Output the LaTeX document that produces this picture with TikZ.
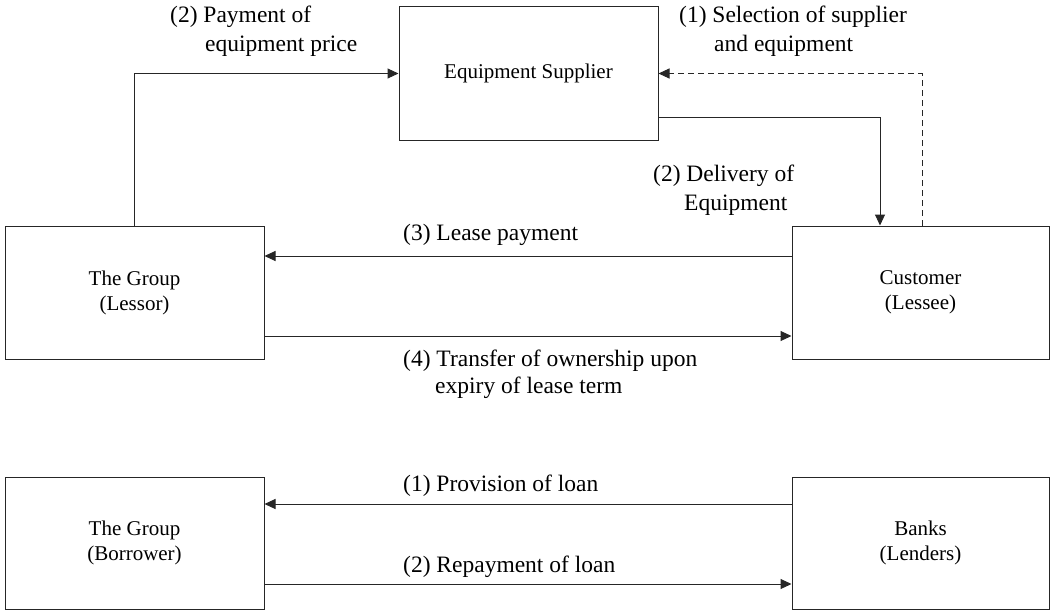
\documentclass[tikz,border=0pt]{standalone}
\usepackage{fontspec}
\setmainfont{Liberation Serif}
\usetikzlibrary{arrows.meta}
\begin{document}
\begin{tikzpicture}[x=1pt,y=-1pt,
  box/.style={draw=black!85,line width=1pt,rectangle,minimum width=259pt,minimum height=133pt,
    align=center,inner sep=0pt,text=black,font=\rmfamily\fontsize{21}{25}\selectfont},
  lbl/.style={anchor=base west,inner sep=0pt,text=black,font=\rmfamily\fontsize{23.5}{28}\selectfont},
  conn/.style={draw=black!85,line width=1pt,-{Triangle[length=11pt,width=10pt]}}
]
\useasboundingbox (0,0) rectangle (1051,610);
% boxes
\node[box] (sup) at (528.5,73.5) {Equipment Supplier};
\node[box] (les) at (134.5,292.5) {The Group\\(Lessor)};
\node[box,minimum width=257pt] (cus) at (920.5,292.5) {Customer\\(Lessee)};
\node[box,minimum height=132pt] (bor) at (134.5,543) {The Group\\(Borrower)};
\node[box,minimum width=257pt,minimum height=132pt] (bank) at (920.5,543) {Banks\\(Lenders)};
% connectors
\draw[conn] (les.north) |- (sup.west);
\draw[conn,dash pattern=on 6pt off 4pt] ([xshift=1.5pt]cus.north) |- (sup.east);
\draw[conn] ([yshift=-43.5pt]sup.east) -| ([xshift=-40.5pt]cus.north);
\draw[conn] ([yshift=36.5pt]cus.west) -- ([yshift=36.5pt]les.east);
\draw[conn] ([yshift=-43.5pt]les.east) -- ([yshift=-43.5pt]cus.west);
\draw[conn] ([yshift=39pt]bank.west) -- ([yshift=39pt]bor.east);
\draw[conn] ([yshift=-41pt]bor.east) -- ([yshift=-41pt]bank.west);
% labels
\node[lbl] (l1a) at (170,23) {(2) Payment of};
\node[lbl] (l1b) at (205,52) {equipment price};
\node[lbl] (l2a) at (679,23) {(1) Selection of supplier};
\node[lbl] (l2b) at (714,52) {and equipment};
\node[lbl] (l3a) at (653,181) {(2) Delivery of};
\node[lbl] (l3b) at (684,210) {Equipment};
\node[lbl] (l4) at (403,240) {(3) Lease payment};
\node[lbl] (l5a) at (403,366) {(4) Transfer of ownership upon};
\node[lbl] (l5b) at (435,393) {expiry of lease term};
\node[lbl] (l6) at (403,491) {(1) Provision of loan};
\node[lbl] (l7) at (403,572) {(2) Repayment of loan};
\end{tikzpicture}
\end{document}
